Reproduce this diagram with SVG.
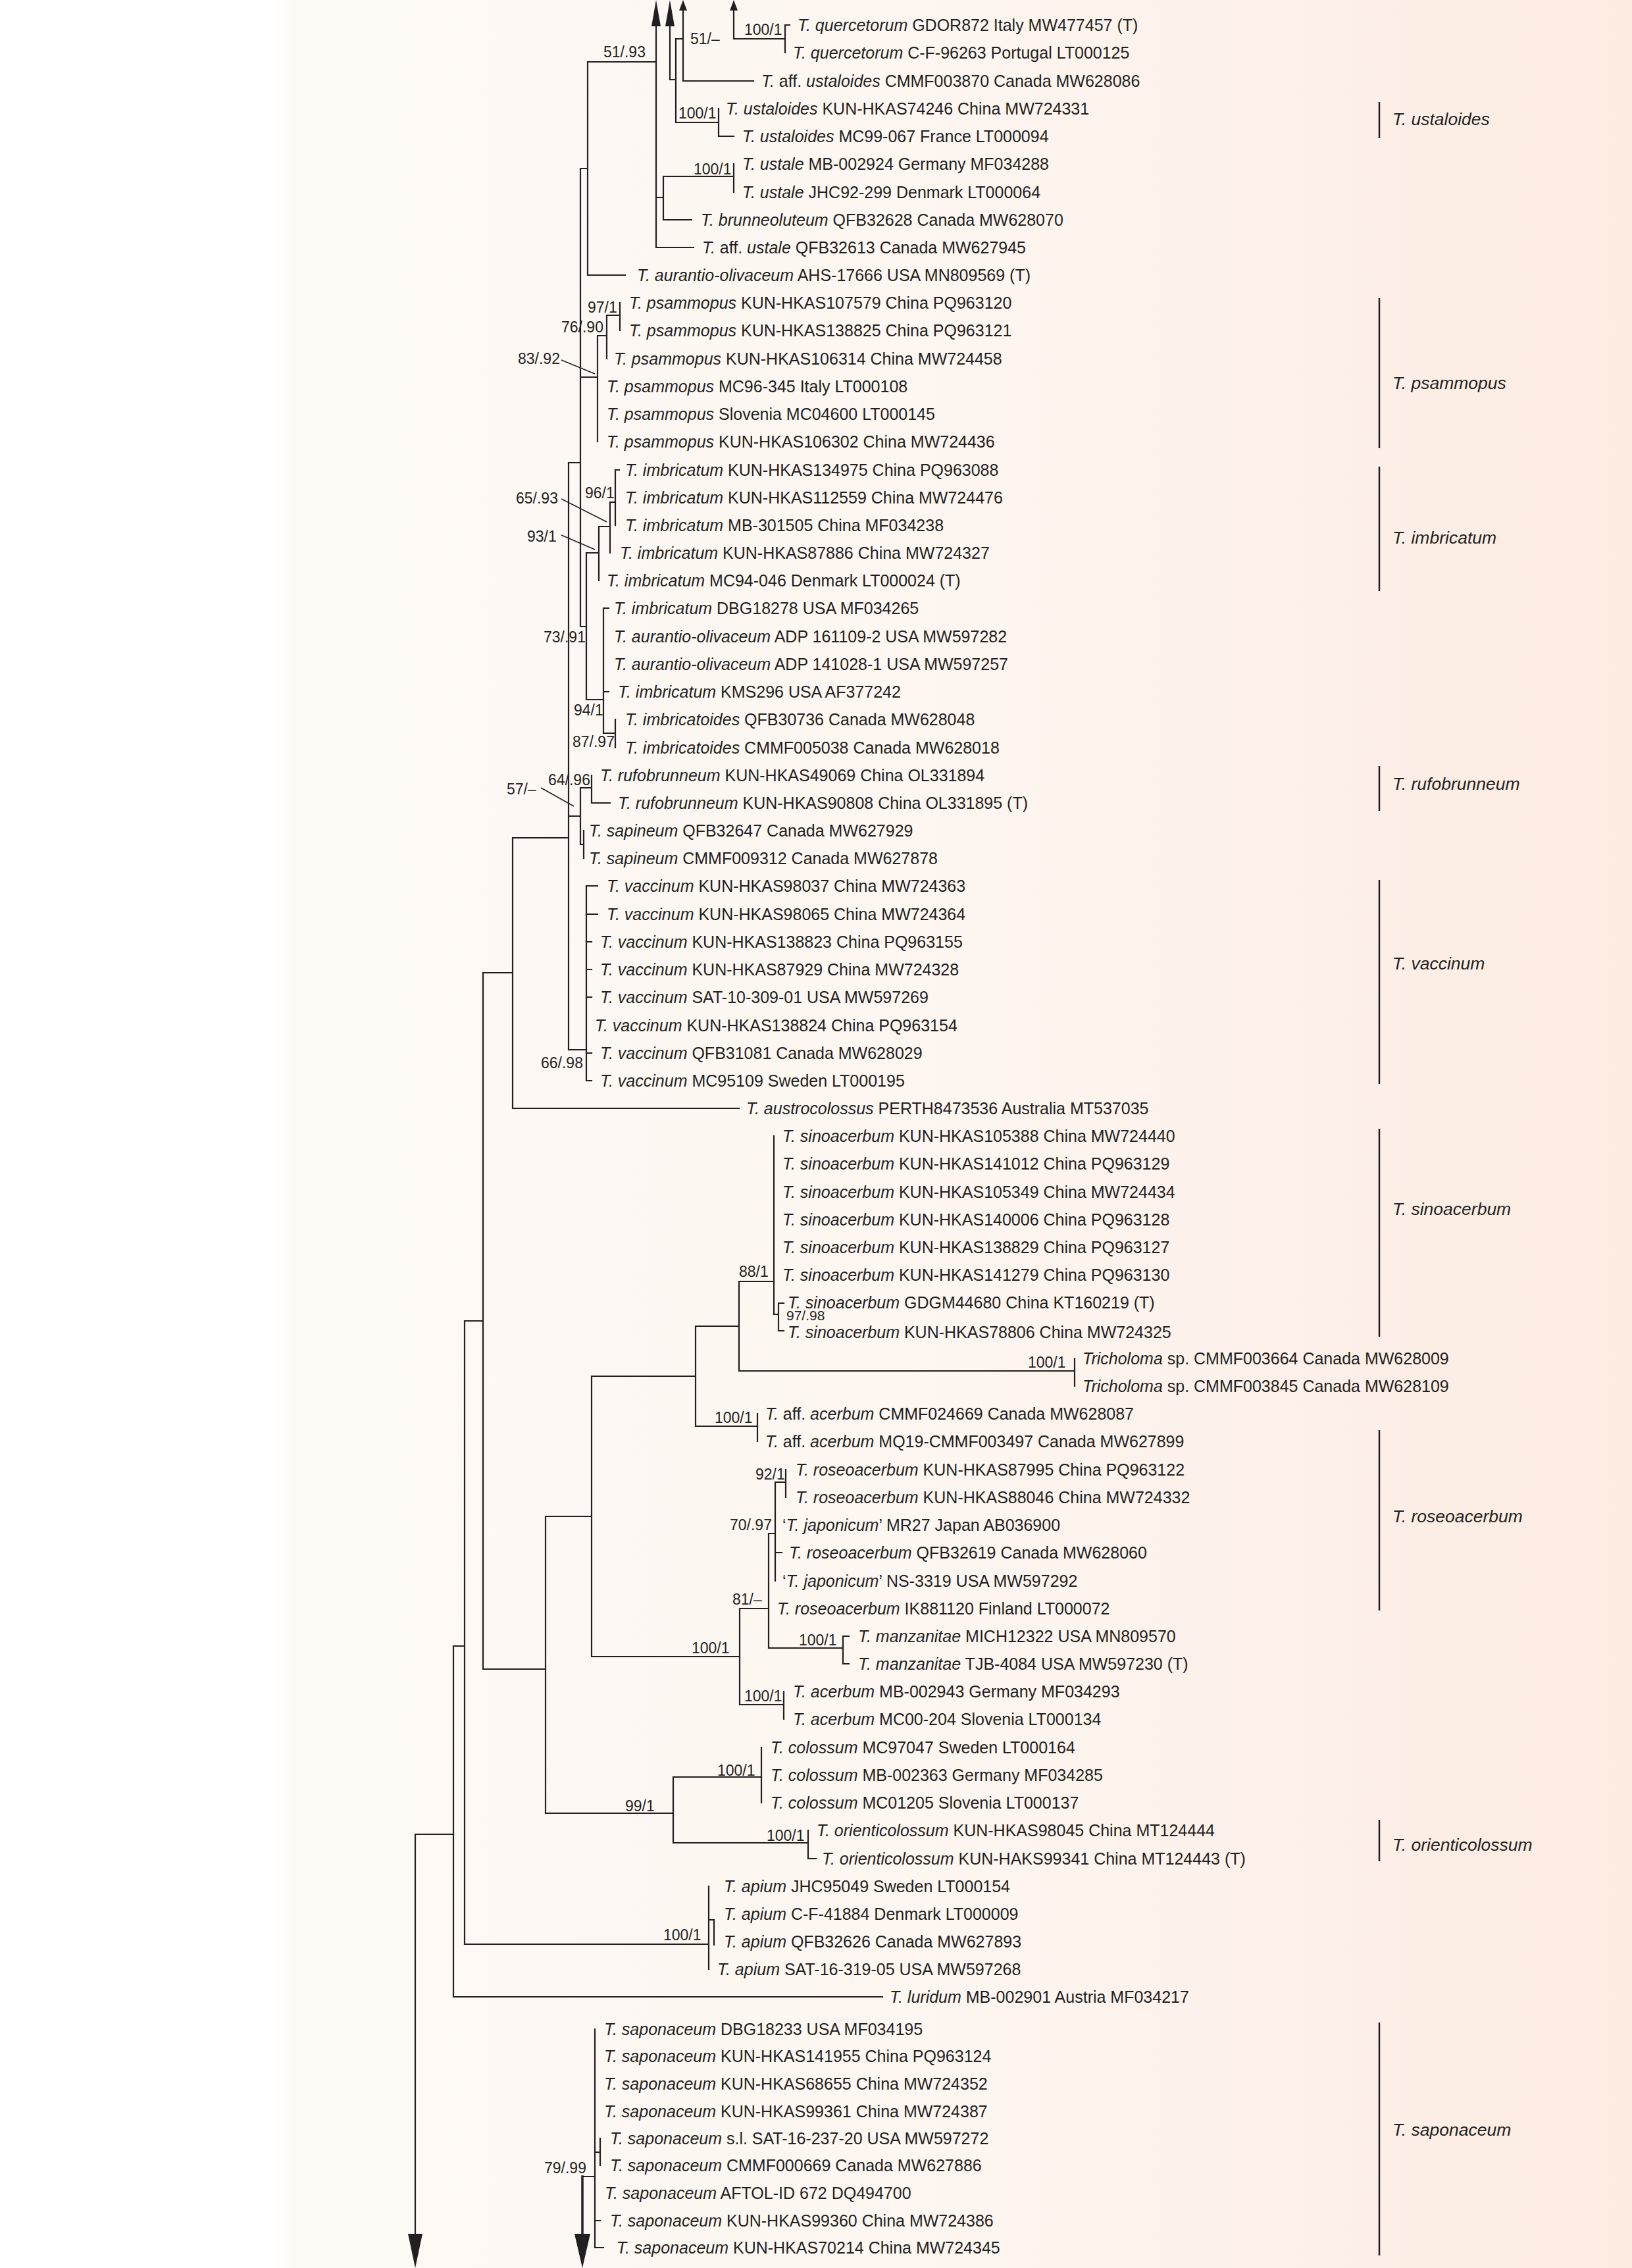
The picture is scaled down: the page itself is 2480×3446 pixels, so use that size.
<svg xmlns="http://www.w3.org/2000/svg" width="2480" height="3446" viewBox="0 0 2480 3446">
<defs>
<linearGradient id="bg" gradientUnits="userSpaceOnUse" x1="0" y1="0" x2="2480" y2="0">
<stop offset="0" stop-color="#ffffff"/>
<stop offset="0.166" stop-color="#ffffff"/>
<stop offset="0.182" stop-color="#fdf9f5"/>
<stop offset="0.56" stop-color="#fdf6f1"/>
<stop offset="1" stop-color="#fcebe1"/>
</linearGradient>
<style>
.br{fill:none;stroke:#231f20;stroke-width:2.2;stroke-linecap:square}
.ld{fill:none;stroke:#231f20;stroke-width:1.6}
.ah{fill:#231f20}
.tx{font-family:"Liberation Sans",Arial,sans-serif;font-size:25px;fill:#231f20}
.sp{font-family:"Liberation Sans",Arial,sans-serif;font-size:23px;fill:#231f20}
.cl{font-family:"Liberation Sans",Arial,sans-serif;font-size:26.5px;font-style:italic;fill:#231f20}
.i{font-style:italic}
.bar{stroke:#231f20;stroke-width:2.5}
</style>
</defs>
<rect x="0" y="0" width="2480" height="3446" fill="url(#bg)"/>

<g id="connectors">
<path class="br" d="M997,30 V376 H1054 M1018,30 V121 H1027 M1038,12 V123 H1145 M1115,12 V59 H1193 M1193,38 V80 M1193,38 H1200
M1027,59 V186 M1027,59 H1038 M1027,186 H1092 M1092,165 V207 H1115
M893,94 H997 M893,94 V418 H950
M997,300 H1008 M1008,268 V334 H1051 M1008,268 H1115 M1115,249 V292
M882,256 H893 M882,256 V952 H891 M882,573 H908 M864,703 H882
M908,510 V671 M908,510 H922 M922,479 V545 M922,479 H942 M942,460 V502
M935,714 V798 M935,714 H941 M927,763 H935 M927,763 V840 M910,800 H927 M910,800 V882 M891,840 H910 M891,840 V1063 H917 M917,924 V1114 H935 M935,1093 V1136 M917,1051 H925 M917,924 H925
M864,703 V1595 M779,1273 H864
M864,1240 H882 M882,1197 V1283 M882,1197 H899 M899,1178 V1220 H927 M882,1283 H887 M887,1262 V1304
M864,1595 H891 M891,1346 V1642 M891,1346 H908 M891,1389 H908 M891,1431 H899 M891,1473 H899 M891,1515 H899 M891,1600 H899 M891,1642 H899
M779,1273 V1684 H1123 M734,1478 H779
M734,1478 V2536 H829 M706,2007 H734
M1176,1726 V1997 H1183 M1123,1947 H1176 M1183,1980 V2022 M1183,1980 H1191 M1183,2022 H1191
M1123,1947 V2083 H1633 M1633,2064 V2106
M1057,2015 H1123 M1057,2015 V2167 H1151 M1151,2148 V2190
M899,2091 H1057 M899,2091 V2517 H1124 M829,2304 H899
M1124,2444 V2590 H1191 M1191,2570 V2612
M1124,2444 H1168 M1168,2330 V2504 H1281 M1281,2486 V2528 M1281,2486 H1290 M1281,2528 H1290
M1168,2330 H1178 M1178,2252 V2402 M1178,2252 H1194 M1194,2233 V2275 M1178,2359 H1188
M829,2304 V2755 H1023 M1023,2700 V2800 M1023,2700 H1157 M1157,2655 V2739 M1023,2800 H1228 M1228,2781 V2824 M1228,2824 H1240
M706,2007 V2954 H1077 M1077,2866 V2992 M1077,2917 H1085 M1085,2917 V2955
M689,2501 H706 M689,2501 V3034 H1341
M631,2787 H689 M631,2787 V3400
M885,3307 H904 M904,3083 V3415 M904,3270 H912 M912,3249 V3290 M904,3374 H912 M904,3415 H917"/>
<path class="br" style="stroke-width:3.5" d="M885,3307 V3400"/>
<path class="ld" d="M853,547 L904,568 M853,758 L922,793 M853,813 L904,835 M822,1197 L872,1225"/>
<polygon class="ah" points="997,0 990,40 1004,40"/>
<polygon class="ah" points="1018,0 1011,40 1025,40"/>
<polygon class="ah" points="1038,0 1032,16 1044,16"/>
<polygon class="ah" points="1115,0 1109,16 1121,16"/>
<polygon class="ah" points="631,3446 620,3394 642,3394"/>
<polygon class="ah" points="885,3446 873,3394 897,3394"/>
</g>

<g id="support">
<text class="sp" x="917" y="87">51/.93</text>
<text class="sp" x="1049" y="67">51/–</text>
<text class="sp" x="1131" y="53">100/1</text>
<text class="sp" x="1031" y="180">100/1</text>
<text class="sp" x="1054" y="265">100/1</text>
<text class="sp" x="893" y="475">97/1</text>
<text class="sp" x="853" y="505">76/.90</text>
<text class="sp" x="787" y="553">83/.92</text>
<text class="sp" x="889" y="757">96/1</text>
<text class="sp" x="784" y="765">65/.93</text>
<text class="sp" x="801" y="823">93/1</text>
<text class="sp" x="826" y="976">73/.91</text>
<text class="sp" x="872" y="1087">94/1</text>
<text class="sp" x="870" y="1135">87/.97</text>
<text class="sp" x="833" y="1193">64/.96</text>
<text class="sp" x="770" y="1207">57/–</text>
<text class="sp" x="822" y="1623">66/.98</text>
<text class="sp" x="1123" y="1940">88/1</text>
<text class="sp" x="1195" y="2006" style="font-size:21px">97/.98</text>
<text class="sp" x="1562" y="2078">100/1</text>
<text class="sp" x="1086" y="2162">100/1</text>
<text class="sp" x="1148" y="2248">92/1</text>
<text class="sp" x="1109" y="2325">70/.97</text>
<text class="sp" x="1113" y="2438">81/–</text>
<text class="sp" x="1214" y="2500">100/1</text>
<text class="sp" x="1051" y="2512">100/1</text>
<text class="sp" x="1131" y="2585">100/1</text>
<text class="sp" x="1090" y="2698">100/1</text>
<text class="sp" x="950" y="2752">99/1</text>
<text class="sp" x="1165" y="2797">100/1</text>
<text class="sp" x="1008" y="2948">100/1</text>
<text class="sp" x="827" y="3302">79/.99</text>
</g>

<g id="taxa">
<g id="t00"><text class="tx" x="1212" y="47"><tspan class="i">T. quercetorum</tspan> GDOR872 Italy MW477457 (T)</text></g>
<g id="t01"><text class="tx" x="1205" y="89"><tspan class="i">T. quercetorum</tspan> C-F-96263 Portugal LT000125</text></g>
<g id="t02"><text class="tx" x="1157" y="132"><tspan class="i">T.</tspan> aff. <tspan class="i">ustaloides</tspan> CMMF003870 Canada MW628086</text></g>
<g id="t03"><text class="tx" x="1103" y="174"><tspan class="i">T. ustaloides</tspan> KUN-HKAS74246 China MW724331</text></g>
<g id="t04"><text class="tx" x="1128" y="216"><tspan class="i">T. ustaloides</tspan> MC99-067 France LT000094</text></g>
<g id="t05"><text class="tx" x="1128" y="258"><tspan class="i">T. ustale</tspan> MB-002924 Germany MF034288</text></g>
<g id="t06"><text class="tx" x="1128" y="301"><tspan class="i">T. ustale</tspan> JHC92-299 Denmark LT000064</text></g>
<g id="t07"><text class="tx" x="1065" y="343"><tspan class="i">T. brunneoluteum</tspan> QFB32628 Canada MW628070</text></g>
<g id="t08"><text class="tx" x="1067" y="385"><tspan class="i">T.</tspan> aff. <tspan class="i">ustale</tspan> QFB32613 Canada MW627945</text></g>
<g id="t09"><text class="tx" x="968" y="427"><tspan class="i">T. aurantio-olivaceum</tspan> AHS-17666 USA MN809569 (T)</text></g>
<g id="t10"><text class="tx" x="956" y="469"><tspan class="i">T. psammopus</tspan> KUN-HKAS107579 China PQ963120</text></g>
<g id="t11"><text class="tx" x="956" y="511"><tspan class="i">T. psammopus</tspan> KUN-HKAS138825 China PQ963121</text></g>
<g id="t12"><text class="tx" x="933" y="554"><tspan class="i">T. psammopus</tspan> KUN-HKAS106314 China MW724458</text></g>
<g id="t13"><text class="tx" x="922" y="596"><tspan class="i">T. psammopus</tspan> MC96-345 Italy LT000108</text></g>
<g id="t14"><text class="tx" x="922" y="638"><tspan class="i">T. psammopus</tspan> Slovenia MC04600 LT000145</text></g>
<g id="t15"><text class="tx" x="922" y="680"><tspan class="i">T. psammopus</tspan> KUN-HKAS106302 China MW724436</text></g>
<g id="t16"><text class="tx" x="950" y="723"><tspan class="i">T. imbricatum</tspan> KUN-HKAS134975 China PQ963088</text></g>
<g id="t17"><text class="tx" x="950" y="765"><tspan class="i">T. imbricatum</tspan> KUN-HKAS112559 China MW724476</text></g>
<g id="t18"><text class="tx" x="950" y="807"><tspan class="i">T. imbricatum</tspan> MB-301505 China MF034238</text></g>
<g id="t19"><text class="tx" x="942" y="849"><tspan class="i">T. imbricatum</tspan> KUN-HKAS87886 China MW724327</text></g>
<g id="t20"><text class="tx" x="922" y="891"><tspan class="i">T. imbricatum</tspan> MC94-046 Denmark LT000024 (T)</text></g>
<g id="t21"><text class="tx" x="933" y="933"><tspan class="i">T. imbricatum</tspan> DBG18278 USA MF034265</text></g>
<g id="t22"><text class="tx" x="933" y="976"><tspan class="i">T. aurantio-olivaceum</tspan> ADP 161109-2 USA MW597282</text></g>
<g id="t23"><text class="tx" x="933" y="1018"><tspan class="i">T. aurantio-olivaceum</tspan> ADP 141028-1 USA MW597257</text></g>
<g id="t24"><text class="tx" x="939" y="1060"><tspan class="i">T. imbricatum</tspan> KMS296 USA AF377242</text></g>
<g id="t25"><text class="tx" x="950" y="1102"><tspan class="i">T. imbricatoides</tspan> QFB30736 Canada MW628048</text></g>
<g id="t26"><text class="tx" x="950" y="1145"><tspan class="i">T. imbricatoides</tspan> CMMF005038 Canada MW628018</text></g>
<g id="t27"><text class="tx" x="912" y="1187"><tspan class="i">T. rufobrunneum</tspan> KUN-HKAS49069 China OL331894</text></g>
<g id="t28"><text class="tx" x="939" y="1229"><tspan class="i">T. rufobrunneum</tspan> KUN-HKAS90808 China OL331895 (T)</text></g>
<g id="t29"><text class="tx" x="895" y="1271"><tspan class="i">T. sapineum</tspan> QFB32647 Canada MW627929</text></g>
<g id="t30"><text class="tx" x="895" y="1313"><tspan class="i">T. sapineum</tspan> CMMF009312 Canada MW627878</text></g>
<g id="t31"><text class="tx" x="922" y="1355"><tspan class="i">T. vaccinum</tspan> KUN-HKAS98037 China MW724363</text></g>
<g id="t32"><text class="tx" x="922" y="1398"><tspan class="i">T. vaccinum</tspan> KUN-HKAS98065 China MW724364</text></g>
<g id="t33"><text class="tx" x="912" y="1440"><tspan class="i">T. vaccinum</tspan> KUN-HKAS138823 China PQ963155</text></g>
<g id="t34"><text class="tx" x="912" y="1482"><tspan class="i">T. vaccinum</tspan> KUN-HKAS87929 China MW724328</text></g>
<g id="t35"><text class="tx" x="912" y="1524"><tspan class="i">T. vaccinum</tspan> SAT-10-309-01 USA MW597269</text></g>
<g id="t36"><text class="tx" x="904" y="1567"><tspan class="i">T. vaccinum</tspan> KUN-HKAS138824 China PQ963154</text></g>
<g id="t37"><text class="tx" x="912" y="1609"><tspan class="i">T. vaccinum</tspan> QFB31081 Canada MW628029</text></g>
<g id="t38"><text class="tx" x="912" y="1651"><tspan class="i">T. vaccinum</tspan> MC95109 Sweden LT000195</text></g>
<g id="t39"><text class="tx" x="1134" y="1693"><tspan class="i">T. austrocolossus</tspan> PERTH8473536 Australia MT537035</text></g>
<g id="t40"><text class="tx" x="1189" y="1735"><tspan class="i">T. sinoacerbum</tspan> KUN-HKAS105388 China MW724440</text></g>
<g id="t41"><text class="tx" x="1189" y="1777"><tspan class="i">T. sinoacerbum</tspan> KUN-HKAS141012 China PQ963129</text></g>
<g id="t42"><text class="tx" x="1189" y="1820"><tspan class="i">T. sinoacerbum</tspan> KUN-HKAS105349 China MW724434</text></g>
<g id="t43"><text class="tx" x="1189" y="1862"><tspan class="i">T. sinoacerbum</tspan> KUN-HKAS140006 China PQ963128</text></g>
<g id="t44"><text class="tx" x="1189" y="1904"><tspan class="i">T. sinoacerbum</tspan> KUN-HKAS138829 China PQ963127</text></g>
<g id="t45"><text class="tx" x="1189" y="1946"><tspan class="i">T. sinoacerbum</tspan> KUN-HKAS141279 China PQ963130</text></g>
<g id="t46"><text class="tx" x="1197" y="1988"><tspan class="i">T. sinoacerbum</tspan> GDGM44680 China KT160219 (T)</text></g>
<g id="t47"><text class="tx" x="1197" y="2033"><tspan class="i">T. sinoacerbum</tspan> KUN-HKAS78806 China MW724325</text></g>
<g id="t48"><text class="tx" x="1645" y="2073"><tspan class="i">Tricholoma</tspan> sp. CMMF003664 Canada MW628009</text></g>
<g id="t49"><text class="tx" x="1645" y="2115"><tspan class="i">Tricholoma</tspan> sp. CMMF003845 Canada MW628109</text></g>
<g id="t50"><text class="tx" x="1163" y="2157"><tspan class="i">T.</tspan> aff. <tspan class="i">acerbum</tspan> CMMF024669 Canada MW628087</text></g>
<g id="t51"><text class="tx" x="1163" y="2199"><tspan class="i">T.</tspan> aff. <tspan class="i">acerbum</tspan> MQ19-CMMF003497 Canada MW627899</text></g>
<g id="t52"><text class="tx" x="1209" y="2242"><tspan class="i">T. roseoacerbum</tspan> KUN-HKAS87995 China PQ963122</text></g>
<g id="t53"><text class="tx" x="1209" y="2284"><tspan class="i">T. roseoacerbum</tspan> KUN-HKAS88046 China MW724332</text></g>
<g id="t54"><text class="tx" x="1189" y="2326">‘<tspan class="i">T. japonicum</tspan>’ MR27 Japan AB036900</text></g>
<g id="t55"><text class="tx" x="1199" y="2368"><tspan class="i">T. roseoacerbum</tspan> QFB32619 Canada MW628060</text></g>
<g id="t56"><text class="tx" x="1189" y="2411">‘<tspan class="i">T. japonicum</tspan>’ NS-3319 USA MW597292</text></g>
<g id="t57"><text class="tx" x="1181" y="2453"><tspan class="i">T. roseoacerbum</tspan> IK881120 Finland LT000072</text></g>
<g id="t58"><text class="tx" x="1304" y="2495"><tspan class="i">T. manzanitae</tspan> MICH12322 USA MN809570</text></g>
<g id="t59"><text class="tx" x="1304" y="2537"><tspan class="i">T. manzanitae</tspan> TJB-4084 USA MW597230 (T)</text></g>
<g id="t60"><text class="tx" x="1205" y="2579"><tspan class="i">T. acerbum</tspan> MB-002943 Germany MF034293</text></g>
<g id="t61"><text class="tx" x="1205" y="2621"><tspan class="i">T. acerbum</tspan> MC00-204 Slovenia LT000134</text></g>
<g id="t62"><text class="tx" x="1171" y="2664"><tspan class="i">T. colossum</tspan> MC97047 Sweden LT000164</text></g>
<g id="t63"><text class="tx" x="1171" y="2706"><tspan class="i">T. colossum</tspan> MB-002363 Germany MF034285</text></g>
<g id="t64"><text class="tx" x="1171" y="2748"><tspan class="i">T. colossum</tspan> MC01205 Slovenia LT000137</text></g>
<g id="t65"><text class="tx" x="1241" y="2790"><tspan class="i">T. orienticolossum</tspan> KUN-HKAS98045 China MT124444</text></g>
<g id="t66"><text class="tx" x="1249" y="2833"><tspan class="i">T. orienticolossum</tspan> KUN-HAKS99341 China MT124443 (T)</text></g>
<g id="t67"><text class="tx" x="1100" y="2875"><tspan class="i">T. apium</tspan> JHC95049 Sweden LT000154</text></g>
<g id="t68"><text class="tx" x="1100" y="2917"><tspan class="i">T. apium</tspan> C-F-41884 Denmark LT000009</text></g>
<g id="t69"><text class="tx" x="1100" y="2959"><tspan class="i">T. apium</tspan> QFB32626 Canada MW627893</text></g>
<g id="t70"><text class="tx" x="1090" y="3001"><tspan class="i">T. apium</tspan> SAT-16-319-05 USA MW597268</text></g>
<g id="t71"><text class="tx" x="1352" y="3043"><tspan class="i">T. luridum</tspan> MB-002901 Austria MF034217</text></g>
<g id="t72"><text class="tx" x="918" y="3092"><tspan class="i">T. saponaceum</tspan> DBG18233 USA MF034195</text></g>
<g id="t73"><text class="tx" x="918" y="3133"><tspan class="i">T. saponaceum</tspan> KUN-HKAS141955 China PQ963124</text></g>
<g id="t74"><text class="tx" x="918" y="3175"><tspan class="i">T. saponaceum</tspan> KUN-HKAS68655 China MW724352</text></g>
<g id="t75"><text class="tx" x="918" y="3217"><tspan class="i">T. saponaceum</tspan> KUN-HKAS99361 China MW724387</text></g>
<g id="t76"><text class="tx" x="927" y="3258"><tspan class="i">T. saponaceum</tspan> s.l. SAT-16-237-20 USA MW597272</text></g>
<g id="t77"><text class="tx" x="927" y="3299"><tspan class="i">T. saponaceum</tspan> CMMF000669 Canada MW627886</text></g>
<g id="t78"><text class="tx" x="919" y="3341"><tspan class="i">T. saponaceum</tspan> AFTOL-ID 672 DQ494700</text></g>
<g id="t79"><text class="tx" x="927" y="3383"><tspan class="i">T. saponaceum</tspan> KUN-HKAS99360 China MW724386</text></g>
<g id="t80"><text class="tx" x="937" y="3424"><tspan class="i">T. saponaceum</tspan> KUN-HKAS70214 China MW724345</text></g>
</g>

<g id="clades">
<g id="c-ustaloides"><line class="bar" x1="2096" y1="155" x2="2096" y2="210"/><text class="cl" x="2116" y="190">T. ustaloides</text></g>
<g id="c-psammopus"><line class="bar" x1="2096" y1="453" x2="2096" y2="681"/><text class="cl" x="2116" y="591">T. psammopus</text></g>
<g id="c-imbricatum"><line class="bar" x1="2096" y1="709" x2="2096" y2="898"/><text class="cl" x="2116" y="826">T. imbricatum</text></g>
<g id="c-rufobrunneum"><line class="bar" x1="2096" y1="1164" x2="2096" y2="1232"/><text class="cl" x="2116" y="1200">T. rufobrunneum</text></g>
<g id="c-vaccinum"><line class="bar" x1="2096" y1="1337" x2="2096" y2="1647"/><text class="cl" x="2116" y="1473">T. vaccinum</text></g>
<g id="c-sinoacerbum"><line class="bar" x1="2096" y1="1715" x2="2096" y2="2031"/><text class="cl" x="2116" y="1846">T. sinoacerbum</text></g>
<g id="c-roseoacerbum"><line class="bar" x1="2096" y1="2173" x2="2096" y2="2447"/><text class="cl" x="2116" y="2313">T. roseoacerbum</text></g>
<g id="c-orienticolossum"><line class="bar" x1="2096" y1="2765" x2="2096" y2="2828"/><text class="cl" x="2116" y="2812">T. orienticolossum</text></g>
<g id="c-saponaceum"><line class="bar" x1="2096" y1="3073" x2="2096" y2="3427"/><text class="cl" x="2116" y="3245">T. saponaceum</text></g>
</g>
</svg>
